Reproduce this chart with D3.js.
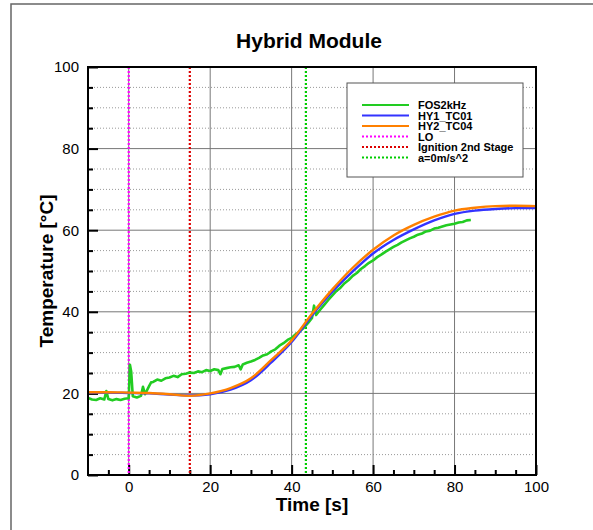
<!DOCTYPE html>
<html>
<head>
<meta charset="utf-8">
<script src="https://cdn.jsdelivr.net/npm/d3@7"></script>
<style>
  body { margin: 0; background: #fff; }
  svg text { font-family: "Liberation Sans", Arial, sans-serif; }
</style>
</head>
<body>
<svg id="chart" width="593" height="530"></svg>
<script>
"use strict";

// FOS2kHz fibre sensor, noisy trace
const fosTime = [-10, -9, -8, -7, -6, -5.5, -5, -4, -3, -2, -1, 0, 0.3, 0.6, 1, 2, 3, 3.5, 4, 5, 5.5, 6, 7, 8, 9,
  10, 11, 12, 13, 14, 15, 16, 17, 18, 19, 20, 21, 22, 22.5, 23, 24, 25, 26, 27, 27.5, 28, 29,
  30, 31, 32, 33, 34, 35, 36, 37, 38, 39, 40, 41, 42, 43, 44, 45, 45.5, 46, 47, 48, 49,
  50, 51, 52, 53, 54, 55, 56, 57, 58, 59, 60, 61, 62, 63, 64, 65, 66, 67, 68, 69,
  70, 71, 72, 73, 74, 75, 76, 77, 78, 79, 80, 81, 82, 83, 84];
const fosTemp = [18.9, 18.5, 18.4, 18.8, 18.5, 20.6, 18.6, 18.3, 18.6, 18.4, 18.7, 18.8, 27.0, 25.4, 19.3, 19.0, 19.4, 21.6, 19.8, 21.8, 22.7, 22.8, 23.4, 23.1, 23.7,
  23.9, 24.3, 24.0, 24.7, 24.8, 25.1, 25.0, 25.4, 25.2, 25.7, 25.5, 25.9, 25.7, 24.7, 26.0, 26.2, 26.4, 26.5, 26.9, 25.9, 27.1, 27.5,
  27.8, 28.2, 28.7, 29.3, 29.6, 30.3, 30.8, 31.7, 32.3, 33.1, 33.6, 34.5, 35.2, 36.1, 37.2, 38.5, 41.5, 39.2, 40.5, 41.7, 42.9,
  44.0, 45.1, 45.9, 47.0, 47.8, 48.8, 49.5, 50.5, 51.2, 52.0, 52.6, 53.4, 54.0, 54.7, 55.3, 55.9, 56.4, 57.0, 57.5, 58.0,
  58.4, 58.9, 59.2, 59.7, 59.9, 60.4, 60.6, 60.9, 61.2, 61.4, 61.6, 61.9, 62.0, 62.4, 62.5];

// thermocouples
const tcTime = [-10, -5, 0, 5, 10, 15, 20, 25, 30, 35, 40, 45, 50, 55, 60, 65, 70, 75, 80, 85, 90, 95, 100];
const tc01Temp = [20.2, 20.2, 20.1, 20.0, 19.7, 19.5, 19.8, 20.9, 23.2, 27.6, 32.6, 39.1, 44.9, 49.9, 54.3, 57.6, 60.2, 62.4, 64.0, 64.8, 65.2, 65.4, 65.4];
const tc04Temp = [20.3, 20.3, 20.2, 20.1, 19.8, 19.4, 20.0, 21.3, 23.7, 28.2, 33.0, 39.5, 45.5, 50.8, 55.2, 58.7, 61.3, 63.3, 64.8, 65.5, 65.9, 66.0, 65.9];

// events
const eventTimes = [0, 15, 43.5];

const xTicks = [0, 20, 40, 60, 80, 100];
const yTicks = [0, 20, 40, 60, 80, 100];

const legendNames = ['FOS2kHz', 'HY1_TC01', 'HY2_TC04', 'LO', 'Ignition 2nd Stage', 'a=0m/s^2'];
const legendColors = ['#22cc22', '#3333ff', '#ff8000', '#ff00ff', '#dd0000', '#00cc00'];
const legendDotted = [false, false, false, true, true, true];

(function () {
  const svg = d3.select('#chart');
  const left = 88, right = 536, top = 67, bottom = 475;

  const x = d3.scaleLinear().domain([-10, 100]).range([left, right]);
  const y = d3.scaleLinear().domain([0, 100]).range([bottom, top]);

  // outer frame
  svg.append('path')
    .attr('d', 'M11,530 L11,4 L593,4')
    .attr('fill', 'none')
    .attr('stroke', '#666')
    .attr('stroke-width', 1.5);

  svg.append('text')
    .attr('x', 309).attr('y', 48)
    .attr('text-anchor', 'middle')
    .style('font-size', '21px').style('font-weight', 'bold')
    .text('Hybrid Module');

  // minor y grid, dotted
  const g = svg.append('g');
  g.selectAll('.ymin').data(d3.range(5, 100, 5).filter(v => v % 20 !== 0)).enter()
    .append('line')
    .attr('x1', left).attr('x2', right)
    .attr('y1', d => y(d)).attr('y2', d => y(d))
    .attr('stroke', '#999').attr('stroke-width', 1)
    .attr('stroke-dasharray', '1,2');

  // major grid
  g.selectAll('.ymaj').data([20, 40, 60, 80]).enter()
    .append('line')
    .attr('x1', left).attr('x2', right)
    .attr('y1', d => y(d)).attr('y2', d => y(d))
    .attr('stroke', '#777').attr('stroke-width', 1);
  g.selectAll('.xmaj').data([0, 20, 40, 60, 80]).enter()
    .append('line')
    .attr('y1', top).attr('y2', bottom)
    .attr('x1', d => x(d)).attr('x2', d => x(d))
    .attr('stroke', '#777').attr('stroke-width', 1);

  // ticks, pointing inward
  const xAxis = d3.axisBottom(x).tickValues(xTicks).tickSize(-10).tickPadding(6).tickFormat(d3.format('d'));
  const xMinor = d3.axisBottom(x).tickValues(d3.range(-5, 100, 5).filter(v => v % 20 !== 0)).tickSize(-5).tickFormat('');
  const yAxis = d3.axisLeft(y).tickValues(yTicks).tickSize(-10).tickPadding(9).tickFormat(d3.format('d'));
  const yMinor = d3.axisLeft(y).tickValues(d3.range(5, 100, 5).filter(v => v % 20 !== 0)).tickSize(-5).tickFormat('');

  [[xAxis, 'translate(0,' + bottom + ')'], [xMinor, 'translate(0,' + bottom + ')'],
   [yAxis, 'translate(' + left + ',0)'], [yMinor, 'translate(' + left + ',0)']].forEach(function (a) {
    const ax = svg.append('g').attr('transform', a[1]).call(a[0]);
    ax.select('.domain').remove();
    ax.selectAll('line').attr('stroke', '#000').attr('stroke-width', 2);
    ax.selectAll('text').style('font-size', '15px').attr('fill', '#000');
  });

  // event lines
  svg.selectAll('.evt').data(eventTimes).enter()
    .append('line')
    .attr('x1', d => x(d)).attr('x2', d => x(d))
    .attr('y1', top).attr('y2', bottom)
    .attr('stroke', (d, i) => legendColors[3 + i])
    .attr('stroke-width', 2.2)
    .attr('stroke-dasharray', '2,2');

  svg.append('clipPath').attr('id', 'clip')
    .append('rect').attr('x', left).attr('y', top).attr('width', right - left).attr('height', bottom - top);

  const plot = svg.append('g').attr('clip-path', 'url(#clip)');

  const fosLine = d3.line().x(d => x(d[0])).y(d => y(d[1]));
  plot.append('path')
    .datum(fosTime.map((t, i) => [t, fosTemp[i]]))
    .attr('d', fosLine)
    .attr('fill', 'none')
    .attr('stroke', legendColors[0])
    .attr('stroke-width', 2.6)
    .attr('stroke-linejoin', 'round');

  const tcLine = d3.line().curve(d3.curveMonotoneX).x(d => x(d[0])).y(d => y(d[1]));
  [tc01Temp, tc04Temp].forEach(function (vals, k) {
    plot.append('path')
      .datum(tcTime.map((t, i) => [t, vals[i]]))
      .attr('d', tcLine)
      .attr('fill', 'none')
      .attr('stroke', legendColors[1 + k])
      .attr('stroke-width', 2.4);
  });

  // plot frame
  svg.append('rect')
    .attr('x', left).attr('y', top)
    .attr('width', right - left).attr('height', bottom - top)
    .attr('fill', 'none').attr('stroke', '#000').attr('stroke-width', 2);

  // axis titles
  svg.append('text')
    .attr('x', 312).attr('y', 511)
    .attr('text-anchor', 'middle')
    .style('font-size', '19px').style('font-weight', 'bold')
    .text('Time [s]');
  svg.append('text')
    .attr('transform', 'translate(53,271) rotate(-90)')
    .attr('text-anchor', 'middle')
    .style('font-size', '19px').style('font-weight', 'bold')
    .text('Temperature [°C]');

  // legend
  const lg = svg.append('g');
  lg.append('rect')
    .attr('x', 347).attr('y', 83).attr('width', 176).attr('height', 94)
    .attr('fill', '#fff').attr('stroke', '#555').attr('stroke-width', 1);
  const rows = lg.selectAll('.row').data(legendNames).enter()
    .append('g')
    .attr('transform', (d, i) => 'translate(0,' + (105 + i * 10.5) + ')');
  rows.append('line')
    .attr('x1', 362).attr('x2', 409)
    .attr('stroke', (d, i) => legendColors[i])
    .attr('stroke-width', 2)
    .attr('stroke-dasharray', (d, i) => legendDotted[i] ? '2,2' : null);
  rows.append('text')
    .attr('x', 418).attr('y', 4)
    .style('font-size', '11px').style('font-weight', 'bold')
    .text(d => d);
})();
</script>
</body>
</html>
